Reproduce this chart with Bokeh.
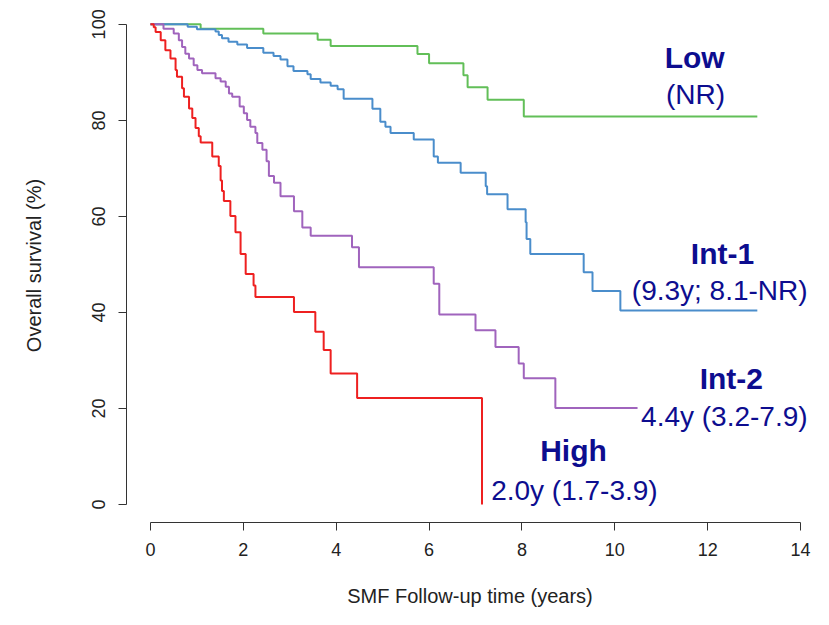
from bokeh.plotting import figure
from bokeh.models import Range1d, FixedTicker, ColumnDataSource
from bokeh.core.properties import value
from bokeh.embed import file_html
from bokeh.resources import INLINE

# ---- data ----
low_t = [0, 1.08, 2.43, 3.60, 3.88, 5.75, 6.00, 6.74, 6.83, 7.26, 8.04, 13.07]
low_s = [100, 99.1, 98.1, 96.8, 95.5, 93.8, 91.9, 89.4, 86.9, 84.3, 80.8, 80.8]

int1_t = [0, 0.80, 1.00, 1.40, 1.47, 1.54, 1.68, 1.87, 2.08, 2.43, 2.65, 2.80, 2.95,
          3.08, 3.38, 3.45, 3.66, 3.88, 4.03, 4.16, 4.78, 4.95, 5.06, 5.17, 5.67,
          6.10, 6.19, 6.68, 7.22, 7.25, 7.69, 8.08, 8.10, 8.18, 9.33, 9.52, 10.12, 13.07]
int1_s = [100, 99.5, 99.0, 98.5, 97.8, 97.1, 96.4, 95.8, 95.1, 94.1, 93.4, 92.7, 91.3,
          90.3, 89.6, 88.6, 87.9, 87.2, 86.5, 84.5, 82.4, 79.7, 78.7, 77.4, 76.0,
          72.5, 71.2, 69.1, 66.3, 64.6, 61.5, 58.8, 55.3, 52.2, 48.4, 44.5, 40.4, 40.4]

int2_t = [0, 0.28, 0.50, 0.61, 0.68, 0.75, 0.83, 0.93, 1.01, 1.11, 1.40, 1.51, 1.62,
          1.69, 1.76, 1.92, 2.01, 2.08, 2.15, 2.26, 2.30, 2.41, 2.50, 2.55, 2.66,
          2.80, 3.09, 3.27, 3.45, 4.34, 4.49, 6.10, 6.22, 7.00, 7.43, 7.93, 8.04,
          8.72, 10.49]
int2_s = [100, 99.1, 98.1, 96.7, 95.3, 93.9, 92.9, 91.5, 90.5, 89.8, 88.8, 88.1, 87.0,
          85.6, 84.9, 82.9, 81.5, 80.1, 78.7, 77.4, 75.3, 73.9, 71.5, 68.4, 67.0,
          64.2, 61.1, 57.7, 56.0, 53.6, 49.4, 46.0, 39.6, 36.3, 32.8, 29.4, 26.3,
          20.1, 20.1]

high_t = [0, 0.07, 0.11, 0.22, 0.32, 0.43, 0.54, 0.57, 0.68, 0.72, 0.83, 0.90, 0.97,
          1.04, 1.08, 1.33, 1.47, 1.51, 1.54, 1.58, 1.72, 1.83, 1.94, 2.05, 2.22,
          2.26, 3.09, 3.55, 3.73, 3.88, 4.45, 7.14]
high_s = [100, 99.4, 98.4, 96.7, 94.6, 92.9, 90.5, 89.1, 86.7, 84.9, 82.5, 80.5, 78.4,
          76.7, 75.4, 72.5, 70.5, 67.5, 65.3, 63.2, 60.1, 56.7, 52.2, 48.0, 45.6,
          43.2, 40.1, 36.0, 32.2, 27.3, 22.2, 0]

group_names = ["Low", "Int-1", "Int-2", "High"]
group_medians = ["(NR)", "(9.3y; 8.1-NR)", "4.4y (3.2-7.9)", "2.0y (1.7-3.9)"]
x_ticks = [0, 2, 4, 6, 8, 10, 12, 14]
y_ticks = [0, 20, 40, 60, 80, 100]

# label anchor positions (data coordinates)
name_x = [11.72, 12.32, 12.51, 9.11]
name_y = [93.2, 52.2, 26.3, 11.2]
med_x = [11.74, 12.26, 12.36, 9.13]
med_y = [85.3, 44.5, 18.4, 2.9]

colors = ["#62bf58", "#4a8dcb", "#a064bd", "#ee2020"]
FONT = "Liberation Sans"
TXT = "#0d0d8f"

p = figure(width=813, height=609, output_backend="svg", toolbar_location=None,
           x_range=Range1d(-0.517, 14.28), y_range=Range1d(-3.73, 103.3),
           min_border_left=126, min_border_right=0, min_border_top=8,
           min_border_bottom=84)
p.outline_line_color = None
p.xgrid.visible = False
p.ygrid.visible = False
p.background_fill_color = "white"
p.border_fill_color = "white"

for t, s, c in zip([low_t, int1_t, int2_t, high_t],
                   [low_s, int1_s, int2_s, high_s], colors):
    p.step(t, s, mode="after", line_color=c, line_width=2)

src_names = ColumnDataSource(dict(x=name_x, y=name_y, text=group_names))
src_meds = ColumnDataSource(dict(x=med_x, y=med_y, text=group_medians))
p.text(x="x", y="y", text="text", source=src_names, text_align="center",
       text_baseline="middle", text_font=value(FONT), text_font_style="bold",
       text_font_size="30px", text_color=TXT)
p.text(x="x", y="y", text="text", source=src_meds, text_align="center",
       text_baseline="middle", text_font=value(FONT), text_font_size="28px",
       text_color=TXT)

for ax in (p.xaxis[0], p.yaxis[0]):
    ax.axis_line_color = "#333333"
    ax.major_tick_line_color = "#333333"
    ax.major_tick_out = 8
    ax.major_tick_in = 0
    ax.minor_tick_line_color = None
    ax.major_label_text_font = FONT
    ax.major_label_text_font_size = "18px"
    ax.major_label_text_color = "#222222"
    ax.axis_label_text_font = FONT
    ax.axis_label_text_font_size = "20px"
    ax.axis_label_text_font_style = "normal"
    ax.axis_label_text_color = "#222222"

p.xaxis.ticker = FixedTicker(ticks=x_ticks)
p.yaxis.ticker = FixedTicker(ticks=y_ticks)
p.xaxis.bounds = (0, 14)
p.yaxis.bounds = (0, 100)
p.xaxis.axis_label = "SMF Follow-up time (years)"
p.yaxis.axis_label = "Overall survival (%)"
p.yaxis.major_label_orientation = "vertical"
p.xaxis.major_label_standoff = 12
p.xaxis.axis_label_standoff = 26
p.yaxis.major_label_standoff = 13
p.yaxis.axis_label_standoff = 45

open("out.html", "w").write(file_html(p, INLINE))
